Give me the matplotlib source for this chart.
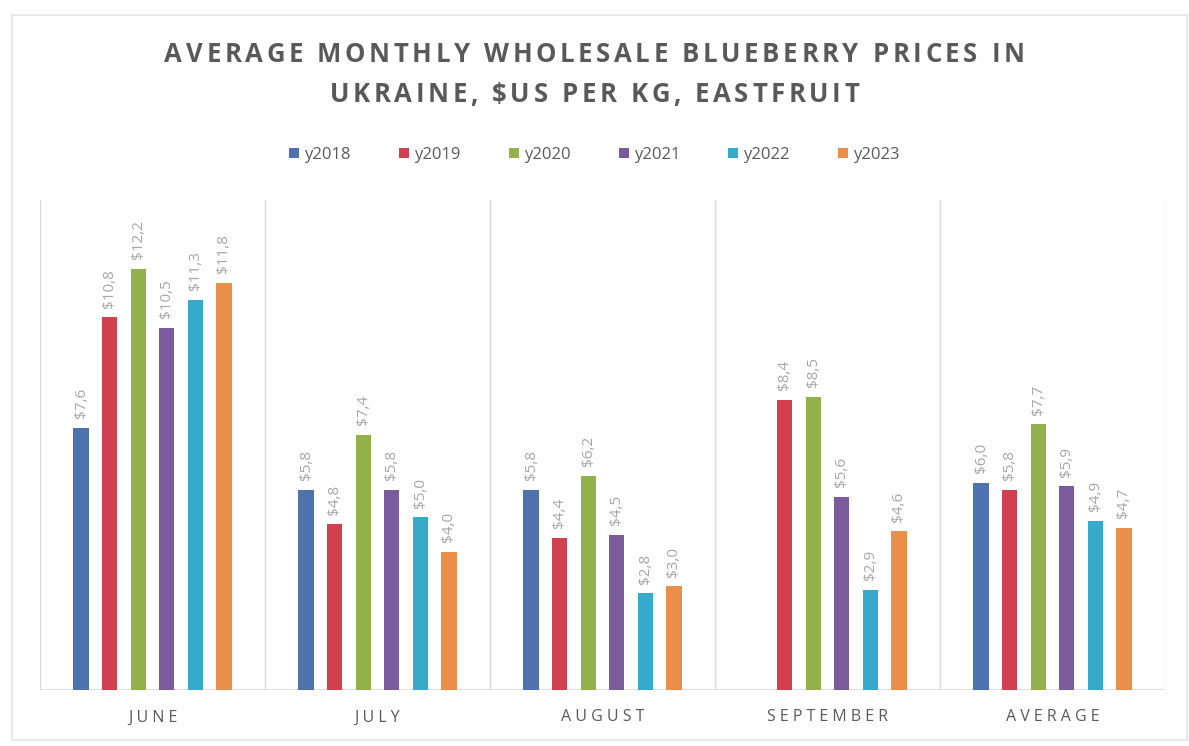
import matplotlib.pyplot as plt
import numpy as np
from matplotlib.patches import Patch, Rectangle

months = ["JUNE", "JULY", "AUGUST", "SEPTEMBER", "AVERAGE"]
years = ["y2018", "y2019", "y2020", "y2021", "y2022", "y2023"]

# price per kg, one list per year (None = no data)
y2018 = [7.6, 5.8, 5.8, None, 6.0]
y2019 = [10.8, 4.8, 4.4, 8.4, 5.8]
y2020 = [12.2, 7.4, 6.2, 8.5, 7.7]
y2021 = [10.5, 5.8, 4.5, 5.6, 5.9]
y2022 = [11.3, 5.0, 2.8, 2.9, 4.9]
y2023 = [11.8, 4.0, 3.0, 4.6, 4.7]

series = [y2018, y2019, y2020, y2021, y2022, y2023]
colors = ["#4E72AD", "#D2404F", "#93B14B", "#7A5C9C", "#35AACB", "#E98F4A"]

TEXT = "#595959"
LABEL = "#A6A6A6"
GRID = "#D9D9D9"

plt.rcParams["font.family"] = ["Open Sans", "DejaVu Sans"]

W, H = 1189, 746
fig = plt.figure(figsize=(W / 100, H / 100), dpi=100)
fig.patch.set_facecolor("white")


def tracked_text(fig, s, y_px, tracking, **kw):
    # draw a centred string letter by letter with extra spacing (pixels)
    renderer = fig.canvas.get_renderer()
    parts = [fig.text(0, 0, ch, va="center", ha="left", **kw) for ch in s]
    widths = []
    for t in parts:
        bb = t.get_window_extent(renderer)
        widths.append(bb.width)
    space_w = fig.text(0, 0, "a a", **kw)
    aa = fig.text(0, 0, "aa", **kw)
    gap = space_w.get_window_extent(renderer).width - aa.get_window_extent(renderer).width
    space_w.remove()
    aa.remove()
    widths = [gap if ch == " " else w for ch, w in zip(s, widths)]
    total = sum(widths) + tracking * (len(s) - 1)
    x0 = (W - total) / 2
    for t, w in zip(parts, widths):
        t.set_position((x0 / W, (H - y_px) / H))
        x0 += w + tracking


# outer chart frame
fig.patches.append(Rectangle((12 / W, 6 / H), (W - 14) / W, (H - 21) / H,
                             transform=fig.transFigure, fill=False,
                             edgecolor="#E3E3E3", linewidth=1.2))

ax = fig.add_axes([40 / W, (H - 690) / H, 1125 / W, 490 / H])
ax.set_xlim(-0.5, len(months) - 0.5)
ax.set_ylim(0, 14.2)

x = np.arange(len(months))
step = 0.127
width = 0.068
for i, (vals, col) in enumerate(zip(series, colors)):
    xs = x + (i - 2.5) * step
    for xi, v in zip(xs, vals):
        if v is None:
            continue
        ax.bar(xi, v, width=width, color=col, zorder=3)
        ax.annotate(f"${v:.1f}".replace(".", ","), (xi, v), xytext=(0, 7),
                    textcoords="offset points", rotation=90, ha="center",
                    va="bottom", fontsize=11, color=LABEL)

for b in np.arange(-0.5, len(months), 1.0):
    ax.axvline(b, color=GRID, linewidth=1.0, zorder=1)
ax.axhline(0, color=GRID, linewidth=1.2, zorder=2)

for s in ax.spines.values():
    s.set_visible(False)
ax.set_yticks([])
ax.set_xticks(x)
ax.set_xticklabels([" ".join(m) for m in months], fontsize=11.5, color=TEXT)
ax.tick_params(axis="x", length=0, pad=14)

title_kw = dict(fontsize=18.5, fontweight="bold", color=TEXT)
tracked_text(fig, "AVERAGE MONTHLY WHOLESALE BLUEBERRY PRICES IN", 55, 3.6, **title_kw)
tracked_text(fig, "UKRAINE, $US PER KG, EASTFRUIT", 95, 3.6, **title_kw)

handles = [Patch(facecolor=c, label=y) for c, y in zip(colors, years)]
leg = fig.legend(handles=handles, loc="center", ncol=6, frameon=False,
                 bbox_to_anchor=(0.5, (H - 155) / H), fontsize=12,
                 handlelength=0.6, handleheight=0.6, handletextpad=0.3,
                 columnspacing=2.9)
for t in leg.get_texts():
    t.set_color(TEXT)

fig.savefig("out.png", dpi=100, facecolor="white")
